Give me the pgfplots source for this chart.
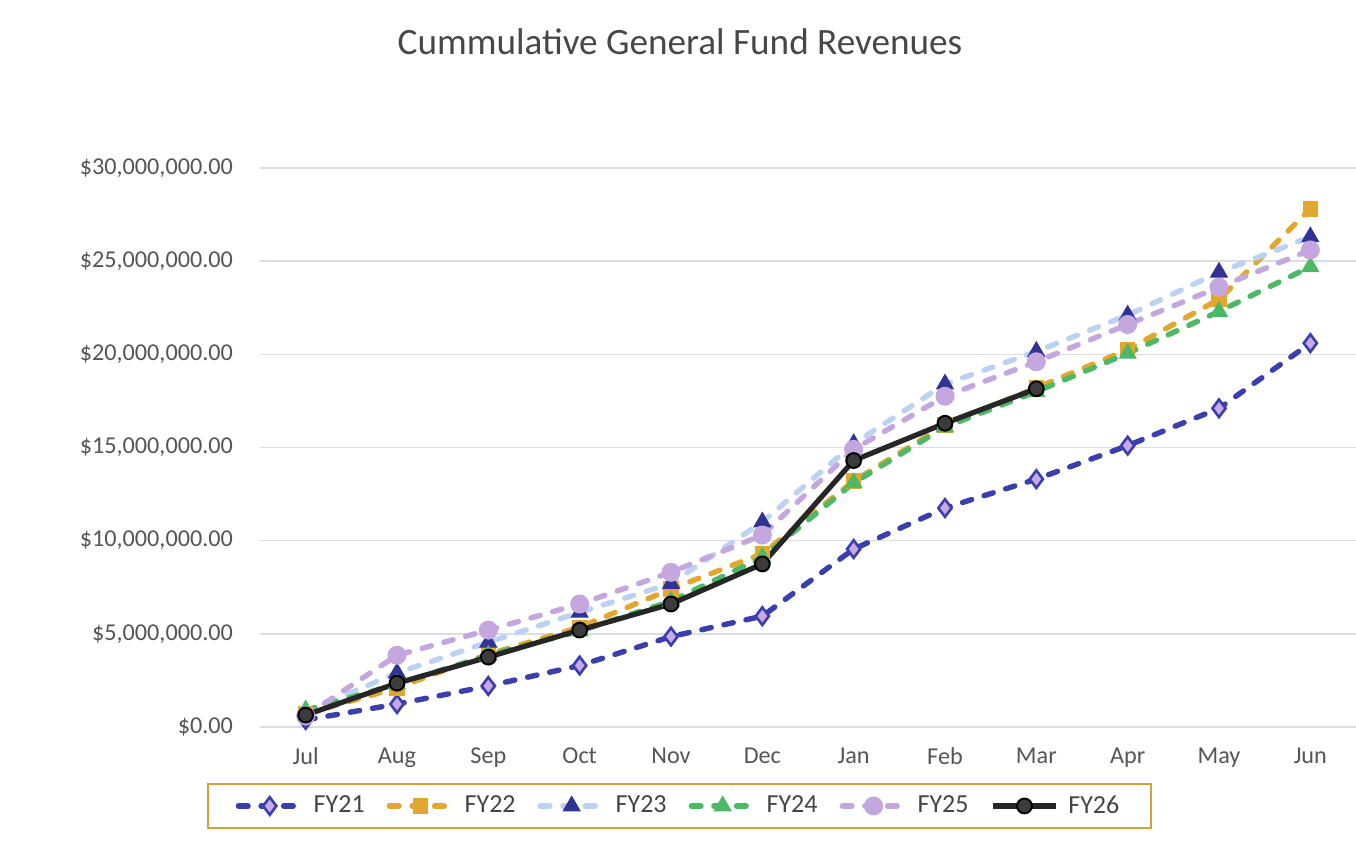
\documentclass[border=0pt]{standalone}
\usepackage{fontspec}
\setmainfont{Carlito}
\usepackage{pgfplots}
\pgfplotsset{compat=1.18}
\definecolor{c21}{HTML}{3B3FAE}
\definecolor{c21f}{HTML}{C9A9E3}
\definecolor{c22}{HTML}{E2A72E}
\definecolor{c23}{HTML}{BCD2F2}
\definecolor{c23m}{HTML}{2F3394}
\definecolor{c24}{HTML}{4DB866}
\definecolor{c25}{HTML}{C4A7DF}
\definecolor{c26}{HTML}{262626}
\definecolor{tickc}{HTML}{555555}
\definecolor{gridc}{HTML}{DCDCE6}
\definecolor{legbox}{HTML}{D4A237}
\begin{document}
\begin{tikzpicture}
\begin{axis}[
  scale only axis, width=548pt, height=279.5pt,
  xmin=-0.5, xmax=11.5, ymin=0, ymax=30,
  xtick={0,...,11},
  xticklabels={Jul,Aug,Sep,Oct,Nov,Dec,Jan,Feb,Mar,Apr,May,Jun},
  ytick={0,5,...,30},
  yticklabels={{\$0.00},{\$5,000,000.00},{\$10,000,000.00},{\$15,000,000.00},{\$20,000,000.00},{\$25,000,000.00},{\$30,000,000.00}},
  axis line style={draw=none}, major tick length=0pt,
  ymajorgrids, grid style={draw=gridc, line width=0.7pt},
  ticklabel style={font=\fontsize{12.1}{14}\selectfont, text=tickc},
  xticklabel style={yshift=-7pt},
  yticklabel style={xshift=-10pt},
  clip=false,
  title={Cummulative General Fund Revenues},
  title style={at={(0.3832,1.204)}, anchor=center, font=\fontsize{18.6}{22}\selectfont, text=c26!85},
  legend columns=6,
  legend style={at={(0.3828,-0.1413)}, anchor=center, draw=legbox, line width=1pt,
    font=\fontsize{13}{15}\selectfont, text=tickc!80!black, inner xsep=14pt, inner ysep=4pt,
    /tikz/every odd column/.append style={column sep=3pt},
    /tikz/every even column/.append style={column sep=9pt}},
  legend image code/.code={\draw[mark repeat=2,mark phase=2] plot coordinates {(0cm,0cm)(0.55cm,0cm)(1.1cm,0cm)};},
  every axis plot/.append style={line width=2.7pt},
]
\addplot[c21, dash pattern=on 4.8pt off 6.5pt, line cap=round, mark=diamond*, mark size=4.4pt,
  mark options={solid, fill=c21f, draw=c21, line width=1.3pt}]
  coordinates {(0,0.38)(1,1.23)(2,2.2)(3,3.3)(4,4.85)(5,5.95)(6,9.55)(7,11.75)(8,13.3)(9,15.1)(10,17.1)(11,20.6)};
\addlegendentry{FY21}
\addplot[c22, dash pattern=on 4.8pt off 6.5pt, line cap=round, mark=square*, mark size=3.6pt,
  mark options={solid, fill=c22, draw=c22, line width=0.5pt}]
  coordinates {(0,0.7)(1,2.1)(2,3.9)(3,5.35)(4,7.4)(5,9.3)(6,13.2)(7,16.2)(8,18.2)(9,20.25)(10,22.95)(11,27.8)};
\addlegendentry{FY22}
\addplot[c23, dash pattern=on 4.8pt off 6.5pt, line cap=round, mark=triangle*, mark size=4.8pt,
  mark options={solid, fill=c23m, draw=c23m, line width=0.5pt}]
  coordinates {(0,0.8)(1,2.9)(2,4.55)(3,6.15)(4,7.7)(5,11.0)(6,15.2)(7,18.4)(8,20.15)(9,22.1)(10,24.4)(11,26.3)};
\addlegendentry{FY23}
\addplot[c24, dash pattern=on 4.8pt off 6.5pt, line cap=round, mark=triangle*, mark size=4.8pt,
  mark options={solid, fill=c24, draw=c24, line width=0.5pt}]
  coordinates {(0,0.9)(1,2.3)(2,3.85)(3,5.15)(4,6.75)(5,9.1)(6,13.1)(7,16.1)(8,18.0)(9,20.05)(10,22.3)(11,24.7)};
\addlegendentry{FY24}
\addplot[c25, dash pattern=on 4.8pt off 6.5pt, line cap=round, mark=*, mark size=4.5pt,
  mark options={solid, fill=c25, draw=c25, line width=0.5pt}]
  coordinates {(0,0.6)(1,3.85)(2,5.2)(3,6.6)(4,8.3)(5,10.3)(6,14.9)(7,17.75)(8,19.6)(9,21.6)(10,23.6)(11,25.6)};
\addlegendentry{FY25}
\addplot[c26, solid, line width=2.6pt, mark=*, mark size=3.7pt,
  mark options={solid, fill=c26!90, draw=black, line width=1pt}]
  coordinates {(0,0.64)(1,2.35)(2,3.75)(3,5.2)(4,6.6)(5,8.75)(6,14.3)(7,16.3)(8,18.15)};
\addlegendentry{FY26}
\end{axis}
\pgfresetboundingbox
\path ([shift={(-130pt,-63pt)}]current axis.south west) rectangle ([shift={(0pt,84pt)}]current axis.north east);
\end{tikzpicture}
\end{document}
